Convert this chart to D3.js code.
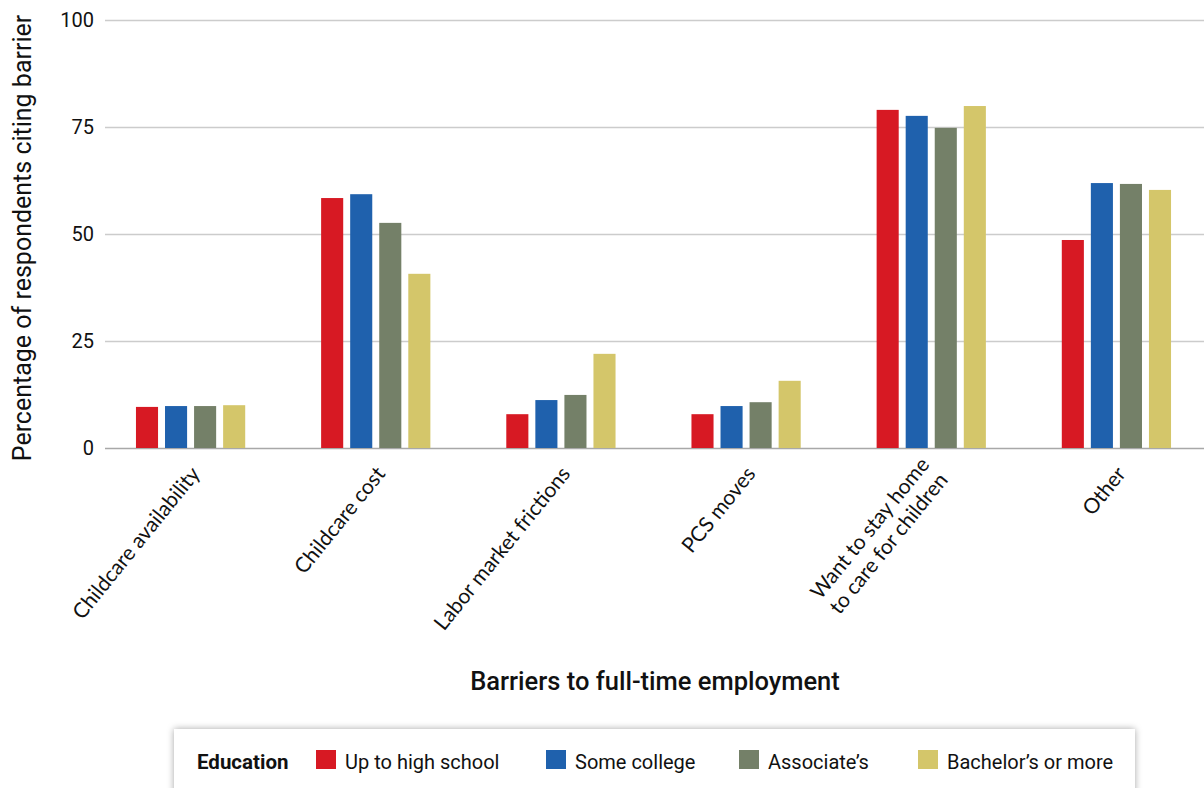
<!DOCTYPE html>
<html>
<head>
<meta charset="utf-8">
<script src="https://cdn.jsdelivr.net/npm/d3@7"></script>
<style>
  html, body { margin: 0; padding: 0; background: #ffffff; }
  svg { display: block; }
  .sans { font-family: Roboto, "Noto Sans", "Liberation Sans", sans-serif; }
  .cat { font-family: Lato, "Open Sans", sans-serif; }
</style>
</head>
<body>
<div id="chart"></div>
<script>
// Barriers to full-time employment, by education level (percent of respondents)
const categories = [
  "Childcare availability",
  "Childcare cost",
  "Labor market frictions",
  "PCS moves",
  "Want to stay home\nto care for children",
  "Other"
];
const seriesNames = ["Up to high school", "Some college", "Associate\u2019s", "Bachelor\u2019s or more"];
const seriesColors = ["#d71923", "#1f61ad", "#748068", "#d4c66a"];
const upToHighSchool = [9.6, 58.4, 7.9, 7.9, 79.0, 48.6];
const someCollege    = [9.8, 59.3, 11.2, 9.8, 77.6, 61.9];
const associates     = [9.8, 52.6, 12.4, 10.7, 74.8, 61.7];
const bachelors      = [10.0, 40.7, 22.0, 15.7, 79.9, 60.3];
const yTicks = [0, 25, 50, 75, 100];

const seriesValues = [upToHighSchool, someCollege, associates, bachelors];

const W = 1204, H = 788;
const svg = d3.select("#chart").append("svg").attr("width", W).attr("height", H);

const y = d3.scaleLinear().domain([0, 100]).range([448, 20]);
const x0 = d3.scaleBand().domain(categories).range([98, 1209]).paddingInner(0.41).paddingOuter(0.205);
const x1 = d3.scaleBand().domain(seriesNames).range([0, x0.bandwidth()]).paddingInner(0.24);

// Gridlines and tick labels
const yAxis = svg.append("g")
  .attr("transform", "translate(105,0)")
  .call(d3.axisLeft(y).tickValues(yTicks).tickSize(-(W - 105)).tickPadding(11));
yAxis.select(".domain").remove();
yAxis.selectAll(".tick line")
  .attr("stroke", d => d === 0 ? "#a8a8a8" : "#cccccc")
  .attr("stroke-width", 1.6);
yAxis.selectAll(".tick text")
  .attr("class", "sans")
  .attr("font-size", 20)
  .attr("fill", "#111");

// Bars
const groups = svg.append("g").selectAll("g")
  .data(categories)
  .join("g")
  .attr("transform", d => `translate(${x0(d)},0)`);

groups.selectAll("rect")
  .data((d, i) => seriesNames.map((s, j) => ({ s, v: seriesValues[j][i], c: seriesColors[j] })))
  .join("rect")
  .attr("x", d => x1(d.s))
  .attr("y", d => y(d.v))
  .attr("width", x1.bandwidth())
  .attr("height", d => y(0) - y(d.v))
  .attr("fill", d => d.c);

// Rotated category labels; multi-line labels are centred line against line
const catG = svg.append("g");
categories.forEach(c => {
  const cx = x0(c) + x0.bandwidth() / 2 - 1;
  const t = catG.append("text")
    .attr("class", "cat")
    .attr("font-size", 21)
    .attr("fill", "#111")
    .attr("text-anchor", "end")
    .attr("transform", `translate(${cx},465) rotate(-51)`);
  const lines = c.split("\n");
  const spans = lines.map((ln, k) => t.append("tspan")
    .attr("x", 0)
    .attr("dy", k === 0 ? (lines.length > 1 ? "0em" : "0.7em") : "1.15em")
    .text(ln));
  if (lines.length > 1) {
    const widths = spans.map(s => s.node().getComputedTextLength());
    const centre = -d3.mean(widths) / 2;
    spans.forEach((s, k) => s.attr("x", centre + widths[k] / 2));
  }
});

// Axis titles
svg.append("text")
  .attr("class", "sans")
  .attr("font-size", 25)
  .attr("fill", "#111")
  .attr("text-anchor", "middle")
  .attr("transform", "translate(31,238) rotate(-90)")
  .text("Percentage of respondents citing barrier");

svg.append("text")
  .attr("class", "sans")
  .attr("font-size", 25.5)
  .attr("font-weight", 500)
  .attr("fill", "#111")
  .attr("text-anchor", "middle")
  .attr("x", 655)
  .attr("y", 690)
  .text("Barriers to full-time employment");

// Legend panel with soft shadow
const defs = svg.append("defs");
const f = defs.append("filter").attr("id", "shadow").attr("x", "-5%").attr("y", "-40%").attr("width", "110%").attr("height", "180%");
f.append("feDropShadow").attr("dx", 0).attr("dy", 0).attr("stdDeviation", 3.5).attr("flood-color", "#000").attr("flood-opacity", 0.35);

svg.append("rect")
  .attr("x", 174).attr("y", 729)
  .attr("width", 961).attr("height", 80)
  .attr("fill", "#fff")
  .attr("filter", "url(#shadow)");

const leg = svg.append("g");
leg.append("text")
  .attr("class", "sans")
  .attr("font-size", 20.5)
  .attr("font-weight", 700)
  .attr("fill", "#111")
  .attr("x", 197).attr("y", 769)
  .text("Education");

const legX = [316, 546, 739, 918];
seriesNames.forEach((s, i) => {
  leg.append("rect")
    .attr("x", legX[i]).attr("y", 750)
    .attr("width", 20).attr("height", 19)
    .attr("fill", seriesColors[i]);
  leg.append("text")
    .attr("class", "sans")
    .attr("font-size", 20)
    .attr("fill", "#111")
    .attr("x", legX[i] + 29).attr("y", 769)
    .text(s);
});
</script>
</body>
</html>
